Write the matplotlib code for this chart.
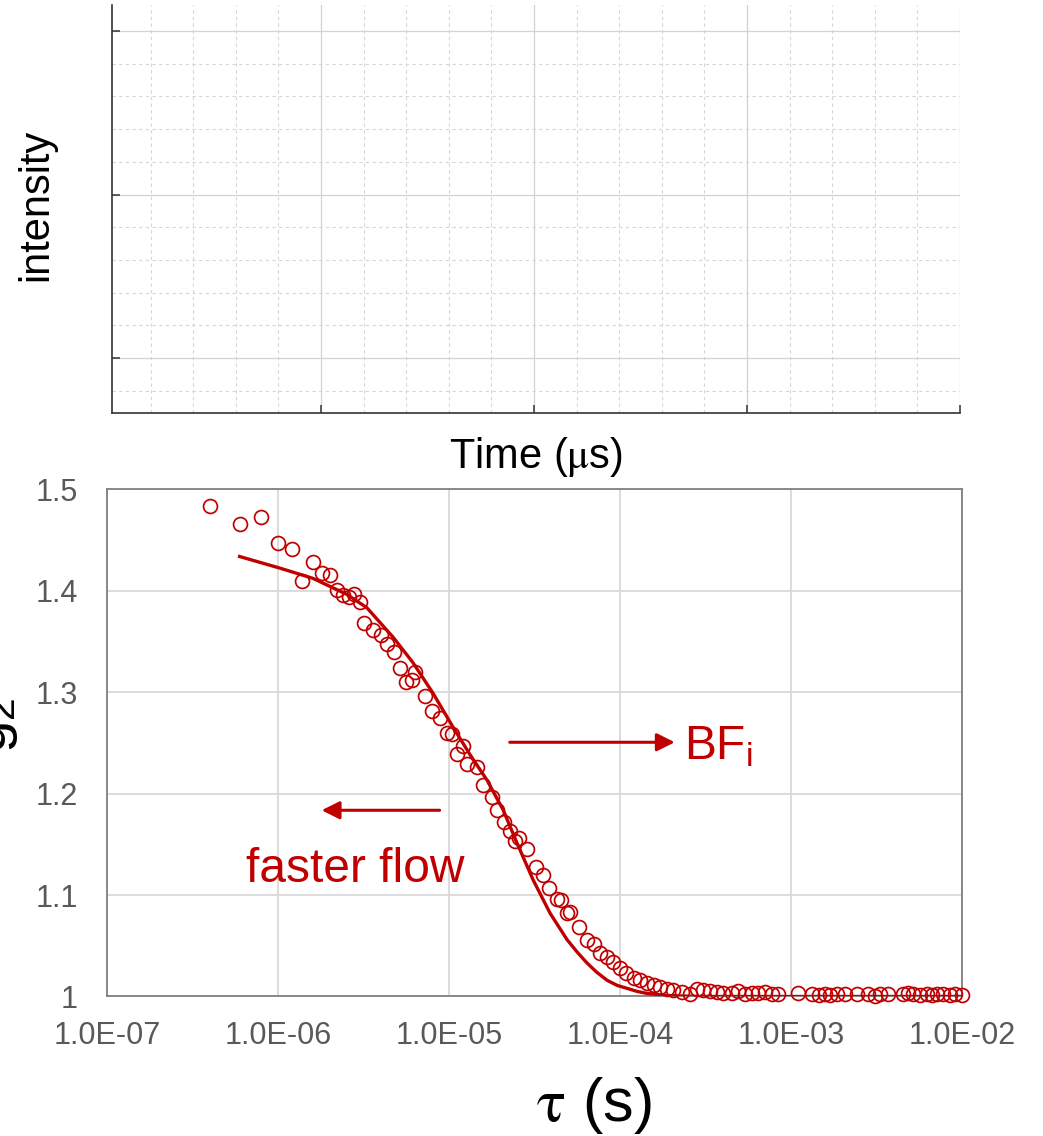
import matplotlib
matplotlib.use("Agg")
import matplotlib.pyplot as plt
from matplotlib.ticker import FixedLocator, FixedFormatter, MultipleLocator

plt.rcParams["font.family"] = ["Liberation Sans", "DejaVu Sans"]
plt.rcParams["mathtext.fontset"] = "stix"
plt.rcParams["mathtext.default"] = "regular"

RED = "#c00000"

# measured g2 points (tau in s)
tau = [4.0e-7, 6.0e-7, 8.0e-7, 1.0e-6, 1.2e-6, 1.39e-6, 1.6e-6, 1.8e-6, 2.0e-6, 2.2e-6,
       2.4e-6, 2.6e-6, 2.8e-6, 3.0e-6, 3.2e-6, 3.6e-6, 4.0e-6, 4.35e-6, 4.76e-6, 5.2e-6,
       5.6e-6, 6.05e-6, 6.3e-6, 7.25e-6, 8.0e-6, 8.8e-6, 9.7e-6, 1.04e-5, 1.12e-5, 1.2e-5,
       1.28e-5, 1.45e-5, 1.59e-5, 1.78e-5, 1.91e-5, 2.1e-5, 2.28e-5, 2.43e-5, 2.58e-5, 2.87e-5,
       3.23e-5, 3.53e-5, 3.86e-5, 4.3e-5, 4.5e-5, 4.88e-5, 5.1e-5, 5.78e-5, 6.38e-5, 7.05e-5,
       7.64e-5, 8.36e-5, 9.14e-5, 1.0e-4, 1.09e-4, 1.2e-4, 1.31e-4, 1.43e-4, 1.57e-4, 1.71e-4,
       1.87e-4, 2.05e-4, 2.3e-4, 2.56e-4, 2.81e-4, 3.07e-4, 3.36e-4, 3.67e-4, 4.02e-4, 4.5e-4,
       4.92e-4, 5.38e-4, 5.89e-4, 6.44e-4, 7.05e-4, 7.7e-4, 8.43e-4, 1.1e-3, 1.32e-3, 1.45e-3,
       1.58e-3, 1.69e-3, 1.85e-3, 2.07e-3, 2.42e-3, 2.83e-3, 3.1e-3, 3.31e-3, 3.71e-3, 4.54e-3,
       4.85e-3, 5.19e-3, 5.68e-3, 6.21e-3, 6.64e-3, 7.11e-3, 7.78e-3, 8.51e-3, 9.1e-3, 1.0e-2]
g2 = [1.483, 1.466, 1.472, 1.447, 1.441, 1.409, 1.428, 1.417, 1.415, 1.401,
      1.396, 1.394, 1.397, 1.389, 1.368, 1.361, 1.356, 1.347, 1.339, 1.324,
      1.310, 1.312, 1.320, 1.296, 1.281, 1.274, 1.260, 1.259, 1.239, 1.247,
      1.229, 1.226, 1.208, 1.197, 1.184, 1.172, 1.163, 1.153, 1.156, 1.145,
      1.128, 1.120, 1.107, 1.096, 1.095, 1.082, 1.083, 1.068, 1.056, 1.052,
      1.043, 1.039, 1.034, 1.028, 1.023, 1.018, 1.016, 1.013, 1.011, 1.009,
      1.007, 1.006, 1.004, 1.002, 1.007, 1.006, 1.005, 1.004, 1.003, 1.003,
      1.005, 1.002, 1.003, 1.003, 1.004, 1.002, 1.002, 1.003, 1.002, 1.001,
      1.002, 1.001, 1.002, 1.002, 1.002, 1.002, 1.000, 1.002, 1.002, 1.002,
      1.003, 1.002, 1.001, 1.002, 1.001, 1.002, 1.002, 1.001, 1.002, 1.001]

# fitted curve
fit_tau = [5.83e-7, 1.03e-6, 1.6e-6, 2.54e-6, 3.31e-6, 4.71e-6, 6.15e-6, 8.05e-6, 1.05e-5,
           1.33e-5, 1.67e-5, 2.07e-5, 2.5e-5, 3.1e-5, 3.9e-5, 4.9e-5, 5.6e-5, 6.41e-5,
           7.3e-5, 8.39e-5, 9.6e-5, 1.1e-4, 1.26e-4, 1.44e-4, 1.65e-4, 1.88e-4, 2.9e-4,
           1.0e-3, 1.0e-2]
fit_g2 = [1.434, 1.422, 1.412, 1.396, 1.383, 1.354, 1.329, 1.299, 1.266,
          1.238, 1.213, 1.184, 1.151, 1.115, 1.082, 1.056, 1.044, 1.033,
          1.024, 1.016, 1.011, 1.008, 1.005, 1.003, 1.002, 1.001, 1.000,
          1.000, 1.000]

x_ticks = [1e-7, 1e-6, 1e-5, 1e-4, 1e-3, 1e-2]
x_labels = ["1.0E-07", "1.0E-06", "1.0E-05", "1.0E-04", "1.0E-03", "1.0E-02"]
y_ticks = [1.0, 1.1, 1.2, 1.3, 1.4, 1.5]
y_labels = ["1", "1.1", "1.2", "1.3", "1.4", "1.5"]

fig = plt.figure(figsize=(10.43, 11.36), dpi=100)

# ---- top (empty) panel ----
ax1 = fig.add_axes([0.1074, 0.6364, 0.813, 0.3596])
ax1.set_xlim(0.019, 4)
ax1.set_ylim(-0.336, 2.162)
ax1.xaxis.set_major_locator(FixedLocator([1, 2, 3, 4]))
ax1.yaxis.set_major_locator(FixedLocator([0, 1, 2]))
ax1.xaxis.set_minor_locator(MultipleLocator(0.2))
ax1.yaxis.set_minor_locator(MultipleLocator(0.2))
ax1.grid(which="major", color="#d2d2d2", lw=0.9)
ax1.grid(which="minor", color="#d6d6d6", lw=0.8, ls=(0, (3, 3)))
ax1.tick_params(which="major", direction="in", length=6, width=1.1, color="#333333",
                labelbottom=False, labelleft=False)
ax1.tick_params(which="minor", length=0)
for s in ["top", "right"]:
    ax1.spines[s].set_visible(False)
for s in ["left", "bottom"]:
    ax1.spines[s].set_color("#333333")
    ax1.spines[s].set_linewidth(1.2)
fig.text(0.035, 0.82, "intensity", rotation=90, ha="center", va="center", fontsize=30)
fig.text(0.514, 0.598, r"Time ($\mathrm{\mu}$s)", ha="center", va="center", fontsize=30)

# ---- bottom g2 panel ----
ax2 = fig.add_axes([0.1026, 0.1228, 0.8198, 0.4467])
ax2.set_xscale("log")
ax2.set_xlim(1e-7, 1e-2)
ax2.set_ylim(1.0, 1.5)
ax2.xaxis.set_major_locator(FixedLocator(x_ticks))
ax2.xaxis.set_major_formatter(FixedFormatter(x_labels))
ax2.xaxis.set_minor_locator(FixedLocator([]))
ax2.yaxis.set_major_locator(FixedLocator(y_ticks))
ax2.yaxis.set_major_formatter(FixedFormatter(y_labels))
ax2.grid(color="#d9d9d9", lw=1.3)
ax2.set_axisbelow(True)
ax2.tick_params(length=0, labelsize=22, labelcolor="#595959")
ax2.tick_params(axis="x", pad=18)
ax2.tick_params(axis="y", pad=21)
for s in ax2.spines.values():
    s.set_color("#808080")
    s.set_linewidth(1.3)

ax2.plot(tau, g2, "o", mfc="none", mec=RED, ms=10, mew=1.25, clip_on=False, zorder=3)
ax2.plot(fit_tau, fit_g2, "-", color=RED, lw=2.4, zorder=4, solid_capstyle="butt")

arrow = dict(arrowstyle="-|>,head_length=0.4,head_width=0.2", color=RED, lw=2.2,
             mutation_scale=27, shrinkA=0, shrinkB=0)
ax2.annotate("", xy=(0.664, 0.501), xytext=(0.471, 0.501), xycoords="axes fraction",
             arrowprops=arrow)
ax2.text(0.675, 0.492, r"BF$_\mathregular{i}$", transform=ax2.transAxes, color=RED,
         fontsize=34.5, ha="left", va="center")
ax2.annotate("", xy=(0.251, 0.367), xytext=(0.389, 0.367), xycoords="axes fraction",
             arrowprops=arrow)
ax2.text(0.290, 0.250, "faster flow", transform=ax2.transAxes, color=RED,
         fontsize=34.5, ha="center", va="center")

fig.text(0.569, 0.027, r"$\mathrm{\tau}$ (s)", ha="center", va="center", fontsize=44)
fig.text(6 / 1043, 1 - 725 / 1136, r"g$_\mathregular{2}$", rotation=90, rotation_mode="anchor",
         ha="center", va="baseline", fontsize=42)

fig.savefig("out.png", dpi=100)
